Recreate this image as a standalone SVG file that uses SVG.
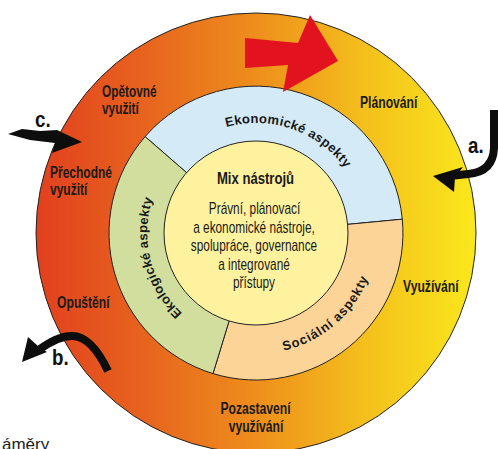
<svg xmlns="http://www.w3.org/2000/svg" xmlns:xlink="http://www.w3.org/1999/xlink" width="498" height="449" viewBox="0 0 498 449">
<defs>
<linearGradient id="ringGrad" gradientUnits="userSpaceOnUse" x1="36" y1="0" x2="476" y2="0">
<stop offset="0" stop-color="#E2401E"/>
<stop offset="0.25" stop-color="#E7641E"/>
<stop offset="0.5" stop-color="#EE8E1C"/>
<stop offset="0.75" stop-color="#F4C01C"/>
<stop offset="1" stop-color="#FAE81C"/>
</linearGradient>
<path id="pEkon" d="M152.1,196.8 A110,110 0 0 1 359.9,269.2"/>
<path id="pEkol" d="M283.5,339.5 A110,110 0 0 1 228.5,126.5"/>
<path id="pSoc" d="M164.5,312.2 A120,120 0 0 0 347.5,153.8"/>
</defs>
<style>
.lbl{font-family:'Liberation Sans',Arial,sans-serif;font-weight:bold;font-size:16px;fill:#1a1a1a}
.mid{text-anchor:middle}
.body{font-family:'Liberation Sans',Arial,sans-serif;font-size:16px;fill:#1a1a1a;text-anchor:middle}
.ring{font-family:'Liberation Sans',Arial,sans-serif;font-weight:bold;font-size:13px;fill:#1a1a1a;text-anchor:middle}
.letter{font-family:'Liberation Sans',Arial,sans-serif;font-weight:bold;font-size:22px;fill:#111}
.seg{stroke:#222;stroke-width:1}
.blk{fill:none;stroke:#0d0d0d;stroke-width:8}
</style>

<g id="outer-cycle">
<circle cx="256" cy="233" r="220" fill="url(#ringGrad)" stroke="#222" stroke-width="1"/>
</g>

<g id="ekonomicke-aspekty">
<path class="seg" fill="#D5EAF7" d="M256,233 L145.1,136.6 A147,147 0 0 1 402.3,219.2 Z"/>
<text class="ring" letter-spacing="0.3"><textPath xlink:href="#pEkon" startOffset="50%">Ekonomické aspekty</textPath></text>
</g>
<g id="socialni-aspekty">
<path class="seg" fill="#FCD498" d="M256,233 L402.3,219.2 A147,147 0 0 1 213,373.6 Z"/>
<text class="ring" letter-spacing="0.9"><textPath xlink:href="#pSoc" startOffset="50%">Sociální aspekty</textPath></text>
</g>
<g id="ekologicke-aspekty">
<path class="seg" fill="#D1DE9E" d="M256,233 L213,373.6 A147,147 0 0 1 145.1,136.6 Z"/>
<text class="ring" letter-spacing="0.25"><textPath xlink:href="#pEkol" startOffset="50%">Ekologické aspekty</textPath></text>
</g>

<g id="mix-nastroju">
<circle cx="256" cy="233" r="92" fill="#FEF29F" stroke="#222" stroke-width="1"/>
<text class="lbl mid" font-size="15" transform="translate(255.5,184) scale(0.82,1)">Mix nástrojů</text>
<text class="body" transform="translate(254.5,214) scale(0.74,1)">Právní, plánovací</text>
<text class="body" transform="translate(254,232.5) scale(0.74,1)">a ekonomické nástroje,</text>
<text class="body" transform="translate(254,251) scale(0.74,1)">spolupráce, governance</text>
<text class="body" transform="translate(254,269.5) scale(0.74,1)">a integrované</text>
<text class="body" transform="translate(254,288) scale(0.74,1)">přístupy</text>
</g>

<g id="planovani">
<text class="lbl" transform="translate(360,108) scale(0.76,1)">Plánování</text>
</g>
<g id="vyuzivani">
<text class="lbl" transform="translate(403,292) scale(0.76,1)">Využívání</text>
</g>
<g id="pozastaveni-vyuzivani">
<text class="lbl mid" transform="translate(255.5,414) scale(0.76,1)">Pozastavení</text>
<text class="lbl mid" transform="translate(256,432) scale(0.76,1)">využívání</text>
</g>
<g id="opusteni">
<text class="lbl" transform="translate(57,308) scale(0.76,1)">Opuštění</text>
</g>
<g id="prechodne-vyuziti">
<text class="lbl" transform="translate(50,178) scale(0.75,1)">Přechodné</text>
<text class="lbl" transform="translate(50,195) scale(0.75,1)">využití</text>
</g>
<g id="opetovne-vyuziti">
<text class="lbl" transform="translate(102,97) scale(0.74,1)">Opětovné</text>
<text class="lbl" transform="translate(102,114) scale(0.74,1)">využití</text>
</g>

<g id="connectors">
<polygon fill="#E2121F" points="245,38 298,43 310,15 338,61 283,92 288,65 245,68"/>
<path class="blk" d="M494,110 L494,148 Q493,172 468,174 L450,176"/>
<polygon fill="#0d0d0d" points="433,176 463,167 455,177 454,192"/>
<path class="blk" d="M108,371 C98,350 86,336 72,336 C60,336 50,342 40,349"/>
<polygon fill="#0d0d0d" points="22,362 28,337 38,346 47,352"/>
<polygon fill="#0d0d0d" points="8,134 22,129 40,131 57,130 82,142 52,153 55,143 30,140"/>
<text class="letter" transform="translate(468,153) scale(0.85,1)">a.</text>
<text class="letter" transform="translate(52,365) scale(0.85,1)">b.</text>
<text class="letter" transform="translate(35,127) scale(0.85,1)">c.</text>
</g>

<text font-family="'Liberation Sans',Arial,sans-serif" font-size="17" fill="#222" x="2" y="450">áměry</text>
</svg>
